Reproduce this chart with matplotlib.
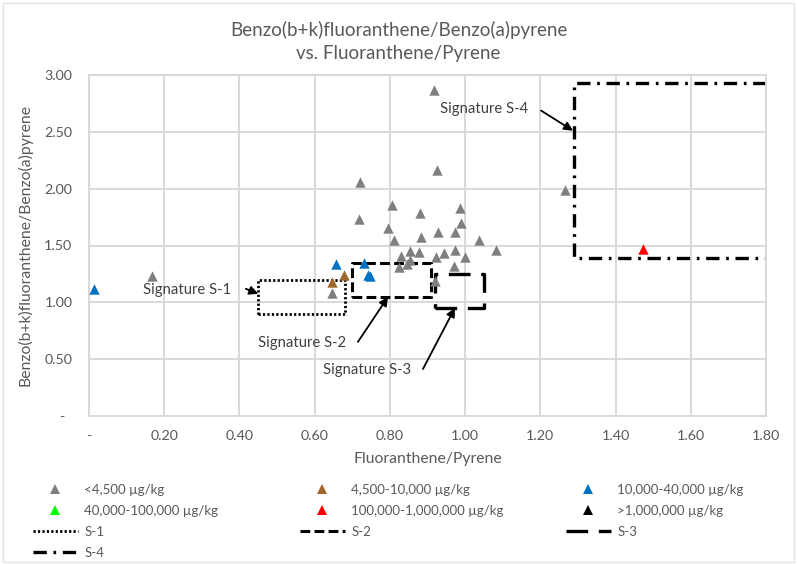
import matplotlib
matplotlib.use("Agg")
import matplotlib.pyplot as plt
from matplotlib.lines import Line2D
from matplotlib.patches import Rectangle

plt.rcParams['font.family'] = ['Lato', 'DejaVu Sans']

# Fluoranthene/Pyrene (x) vs Benzo(b+k)fluoranthene/Benzo(a)pyrene (y), by total PAH class
gray_x = [0.168, 0.646, 0.916, 0.926, 0.720, 0.805, 0.718, 0.881, 0.987, 0.796,
          0.988, 0.812, 0.884, 0.928, 0.973, 1.038, 1.082, 0.973, 0.854, 0.878,
          0.945, 0.830, 0.922, 0.999, 0.853, 0.845, 0.825, 0.971, 0.920, 1.266]
gray_y = [1.233, 1.086, 2.870, 2.165, 2.055, 1.860, 1.733, 1.786, 1.830, 1.654,
          1.697, 1.550, 1.574, 1.623, 1.615, 1.550, 1.463, 1.463, 1.456, 1.439,
          1.430, 1.404, 1.395, 1.398, 1.374, 1.339, 1.310, 1.322, 1.185, 1.985]
brown_x = [0.679, 0.646]
brown_y = [1.242, 1.178]
blue_x = [0.014, 0.657, 0.732, 0.742, 0.748]
blue_y = [1.119, 1.339, 1.348, 1.240, 1.230]
green_x, green_y = [], []
red_x = [1.474]
red_y = [1.468]
black_x, black_y = [], []

class_labels = ["<4,500 µg/kg", "4,500-10,000 µg/kg", "10,000-40,000 µg/kg",
                "40,000-100,000 µg/kg", "100,000-1,000,000 µg/kg", ">1,000,000 µg/kg"]

# Signature boxes: (x_min, x_max, y_min, y_max)
sig_s1 = (0.45, 0.68, 0.90, 1.20)
sig_s2 = (0.70, 0.91, 1.05, 1.35)
sig_s3 = (0.92, 1.05, 0.95, 1.25)
sig_s4 = (1.29, 1.80, 1.39, 2.93)

x_ticks = [0.0, 0.2, 0.4, 0.6, 0.8, 1.0, 1.2, 1.4, 1.6, 1.8]
y_ticks = [0.0, 0.5, 1.0, 1.5, 2.0, 2.5, 3.0]

TXT = '#595959'
GRID = '#d9d9d9'

fig = plt.figure(figsize=(7.97, 5.64), dpi=100)
fig.patches.append(Rectangle((0.004, 0.004), 0.992, 0.990, transform=fig.transFigure,
                             fill=False, edgecolor='#e3e3e3', lw=1.0))

ax = fig.add_axes([89/797, (564-416)/564, 677/797, 341/564])
ax.set_xlim(0, 1.8)
ax.set_ylim(0, 3.0)
ax.set_xticks(x_ticks)
ax.set_yticks(y_ticks)
ax.set_xticklabels(['-' if v == 0 else f'{v:.2f}' for v in x_ticks])
ax.set_yticklabels(['-  ' if v == 0 else f'{v:.2f}' for v in y_ticks])
ax.tick_params(axis='both', length=0, labelsize=10.3, labelcolor=TXT)
ax.tick_params(axis='x', pad=10)
ax.tick_params(axis='y', pad=12)
ax.grid(True, color=GRID, lw=1.4, zorder=0)
ax.set_axisbelow(True)
for s in ax.spines.values():
    s.set_color(GRID)
    s.set_linewidth(1.4)

ms = 56
series = [(gray_x, gray_y, '#7f7f7f'), (brown_x, brown_y, '#a0672d'),
          (blue_x, blue_y, '#0070c0'), (green_x, green_y, '#00ff00'),
          (red_x, red_y, '#ff0000'), (black_x, black_y, '#000000')]
for xs, ys, c in series:
    ax.scatter(xs, ys, marker='^', s=ms, color=c, linewidths=0, zorder=3)


def box_path(b):
    x0, x1, y0, y1 = b
    return [x0, x1, x1, x0, x0], [y0, y0, y1, y1, y0]


st_s1 = dict(color='black', lw=2.0, linestyle=(0, (0.8, 0.8)))
st_s2 = dict(color='black', lw=2.2, linestyle=(0, (3.2, 1.4)))
st_s3 = dict(color='black', lw=2.4, linestyle=(0, (6.5, 3.2)))
st_s4 = dict(color='black', lw=2.4, linestyle=(0, (4.0, 2.0, 0.8, 2.0)))

bx, by = box_path(sig_s1)
ax.plot(bx, by, zorder=2, **st_s1)
bx, by = box_path(sig_s2)
ax.plot(bx, by, zorder=2, **st_s2)
bx, by = box_path(sig_s3)
ax.plot(bx, by, zorder=2, **st_s3)
x0, x1, y0, y1 = sig_s4
ax.plot([x1, x0, x0, x1], [y1, y1, y0, y0], zorder=2, clip_on=False, **st_s4)

ann_color = '#404040'
ann_fs = 10.7
arrow = dict(arrowstyle='-|>', color='black', lw=1.3, mutation_scale=13, shrinkA=0, shrinkB=0)
ax.text(1.050, 2.705, 'Signature S-4', ha='center', va='center', fontsize=ann_fs, color=ann_color)
ax.annotate('', xy=(1.287, 2.51), xytext=(1.202, 2.687), arrowprops=arrow)
ax.text(0.260, 1.110, 'Signature S-1', ha='center', va='center', fontsize=ann_fs, color=ann_color)
ax.annotate('', xy=(0.450, 1.075), xytext=(0.417, 1.119), arrowprops=arrow)
ax.text(0.566, 0.643, 'Signature S-2', ha='center', va='center', fontsize=ann_fs, color=ann_color)
ax.annotate('', xy=(0.795, 1.048), xytext=(0.715, 0.652), arrowprops=arrow)
ax.text(0.740, 0.405, 'Signature S-3', ha='center', va='center', fontsize=ann_fs, color=ann_color)
ax.annotate('', xy=(0.973, 0.951), xytext=(0.888, 0.414), arrowprops=arrow)

ax.set_xlabel('Fluoranthene/Pyrene', fontsize=11.3, color=TXT)
ax.xaxis.set_label_coords(0.5, -0.105)
ax.set_ylabel('Benzo(b+k)fluoranthene/Benzo(a)pyrene', fontsize=11.3, color=TXT)
ax.yaxis.set_label_coords(-0.083, 0.5)

fig.text(0.5, 1 - 21/564, 'Benzo(b+k)fluoranthene/Benzo(a)pyrene\nvs. Fluoranthene/Pyrene',
         ha='center', va='top', fontsize=13.5, color=TXT, linespacing=1.4)

# legend, three columns laid out row by row
def mk(c):
    return Line2D([], [], marker='^', color=c, markersize=7, linestyle='None', markeredgewidth=0)

cols = [
    ([mk('#7f7f7f'), mk('#00ff00'), Line2D([], [], **st_s1), Line2D([], [], **st_s4)],
     [class_labels[0], class_labels[3], 'S-1', 'S-4'], 33),
    ([mk('#a0672d'), mk('#ff0000'), Line2D([], [], **st_s2)],
     [class_labels[1], class_labels[4], 'S-2'], 300),
    ([mk('#0070c0'), mk('#000000'), Line2D([], [], **st_s3)],
     [class_labels[2], class_labels[5], 'S-3'], 566),
]
for hs, ls, xpx in cols:
    fig.legend(hs, ls, loc='upper left', bbox_to_anchor=(xpx/797, 1 - 484/564),
               frameon=False, fontsize=9.5, handlelength=3.4, handletextpad=0.5,
               borderpad=0, borderaxespad=0, labelspacing=0.68, labelcolor=TXT)

fig.savefig('out.png', dpi=100)
